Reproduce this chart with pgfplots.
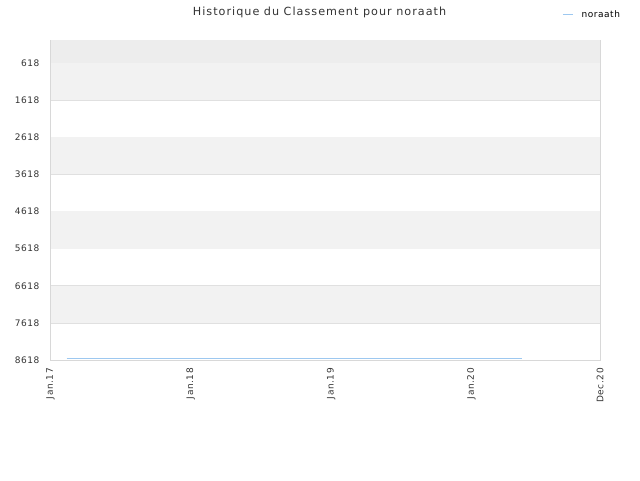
\documentclass[border=0pt]{standalone}
\usepackage{fontspec}
\setmainfont{DejaVu Sans}
\newfontfamily\lsfont[LetterSpace=6]{DejaVu Sans}
\newfontfamily\titlefont[LetterSpace=9]{DejaVu Sans}
\usepackage{pgfplots}
\pgfplotsset{compat=1.18}

\definecolor{bandgray}{HTML}{F2F2F2}
\definecolor{topgray}{HTML}{EDEDED}
\definecolor{gridc}{HTML}{E0E0E0}
\definecolor{framec}{HTML}{D8D8D8}
\definecolor{linec}{HTML}{9DC8F0}
\definecolor{textc}{HTML}{333333}

\begin{document}
\begin{tikzpicture}
\path (0pt,0pt) rectangle (640pt,480pt);
\node[font=\titlefont\fontsize{11.2}{13}\selectfont, text=textc] at (319.5pt,468pt) {Historique du Classement pour noraath};
\begin{axis}[
  at={(50.5pt,120pt)}, anchor=south west,
  scale only axis, width=549.5pt, height=320pt,
  xmin=0, xmax=47,
  ymin=0, ymax=8618,
  y dir=reverse,
  axis line style={framec},
  xtick={0,12,24,36,47},
  xticklabels={Jan.17,Jan.18,Jan.19,Jan.20,Dec.20},
  ytick={618,1618,2618,3618,4618,5618,6618,7618,8618},
  yticklabels={618,1618,2618,3618,4618,5618,6618,7618,8618},
  major tick length=0pt,
  xticklabel style={rotate=90, anchor=east, font=\lsfont\fontsize{9}{10}\selectfont, text=textc, inner sep=0pt},
  xticklabel shift=8pt,
  yticklabel style={font=\lsfont\fontsize{9}{10}\selectfont, text=textc, inner sep=0pt},
  yticklabel shift=11pt,
  /pgf/number format/assume math mode=true,
  ymajorgrids, grid style={gridc, line width=0.6pt},
  legend style={at={(0.9309,1.10)}, anchor=north west, draw=none, fill=none,
    font=\lsfont\fontsize{9}{10}\selectfont, text=black, inner sep=0pt},
  legend cell align=left,
  legend image code/.code={\draw[linec, line width=1.5pt] (0pt,0pt) -- (10pt,0pt); \path (16pt,0pt);},
]
\addplot[draw=none, fill=topgray, forget plot] coordinates {(0,0) (47,0) (47,618) (0,618)} -- cycle;
\addplot[draw=none, fill=bandgray, forget plot] coordinates {(0,618) (47,618) (47,1618) (0,1618)} -- cycle;
\addplot[draw=none, fill=bandgray, forget plot] coordinates {(0,2618) (47,2618) (47,3618) (0,3618)} -- cycle;
\addplot[draw=none, fill=bandgray, forget plot] coordinates {(0,4618) (47,4618) (47,5618) (0,5618)} -- cycle;
\addplot[draw=none, fill=bandgray, forget plot] coordinates {(0,6618) (47,6618) (47,7618) (0,7618)} -- cycle;
\addplot[linec, line width=1.2pt, mark=none] coordinates {
  (1.37,8585) (12,8585) (24,8585) (36,8585) (40.3,8585)
};
\addlegendentry{noraath}
\end{axis}
\end{tikzpicture}
\end{document}
